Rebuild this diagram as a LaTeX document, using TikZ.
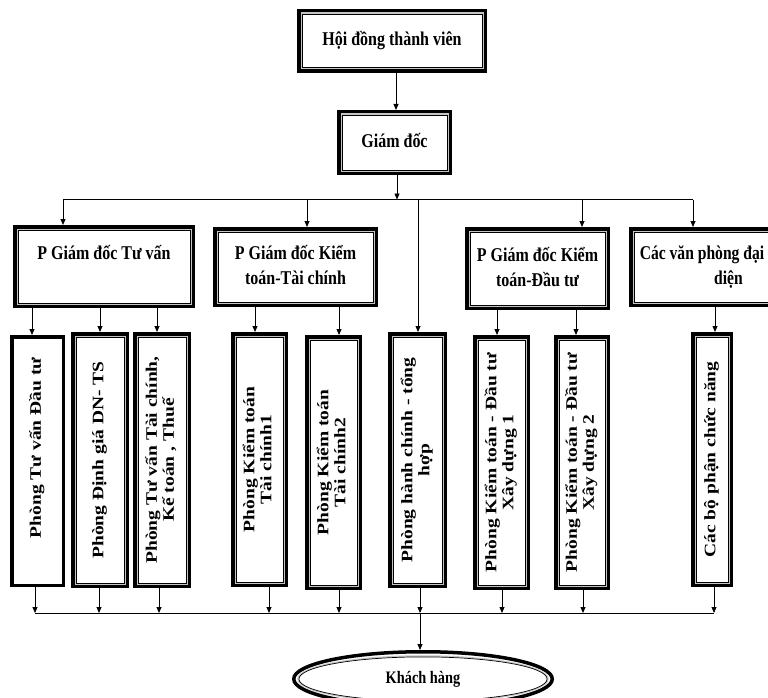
\documentclass[tikz,border=0pt]{standalone}
\usepackage{fontspec}
\setmainfont{Liberation Serif}
\usepackage{graphicx}
\usetikzlibrary{arrows.meta,shapes.geometric}
\newcommand\htx[1]{\scalebox{0.82}[1]{\begin{tabular}{@{}c@{}}#1\end{tabular}}}
\newcommand\vtx[1]{\scalebox{0.82}[1]{\rotatebox{90}{\begin{tabular}{@{}c@{}}#1\end{tabular}}}}
\begin{document}
\begin{tikzpicture}[x=1pt,y=-1pt,
  frame/.style={draw=black, line width=3.5pt, fill=white, inner sep=0pt},
  hbox/.style={frame, font=\fontsize{19.5}{25}\selectfont\bfseries},
  vbox/.style={frame, font=\fontsize{19.5}{20.5}\selectfont\bfseries},
  arr/.style={-{Triangle[length=6pt,width=5pt]}, line width=0.8pt},
  ln/.style={line width=0.8pt},
  gapline/.style={draw=gray!45, line width=1.3pt},
  thinline/.style={draw=black, line width=0.7pt}]
\useasboundingbox (0,0) rectangle (768,698);
\clip (0,0) rectangle (768,698);

% level 0 and 1
\node[hbox, minimum width=186.5pt, minimum height=60.5pt] (A) at (392,41) {\htx{Hội đồng thành viên}};
\node[hbox, minimum width=111.5pt, minimum height=61.5pt] (B) at (394.5,142.5) {\htx{Giám đốc}};

% level 2
\node[hbox, minimum width=178.5pt, minimum height=79.5pt] (C1) at (104,266.5) {\htx{P Giám đốc Tư vấn\\ \mbox{}}};
\node[hbox, minimum width=161.5pt, minimum height=76.5pt] (C2) at (295.5,267) {\htx{P Giám đốc Kiểm\\toán-Tài chính}};
\node[hbox, minimum width=141.5pt, minimum height=79.5pt] (C3) at (537.5,268.5) {\htx{P Giám đốc Kiểm\\toán-Đầu tư}};
\node[hbox, minimum width=142.5pt, minimum height=76.5pt] (C4) at (702,267) {\scalebox{0.8}[1]{\begin{tabular}{@{}l@{}}Các văn phòng đại\\\hspace*{93pt}diện\end{tabular}}};

% level 3
\node[vbox, minimum width=51.5pt, minimum height=248.5pt] (D1) at (37.5,461) {\vtx{\hspace*{26pt}Phòng Tư vấn Đầu tư}};
\node[vbox, minimum width=54.5pt, minimum height=252.5pt] (D2) at (100,460) {\vtx{Phòng Định giá DN- TS}};
\node[vbox, minimum width=54.5pt, minimum height=252.5pt] (D3) at (162,460) {\vtx{Phòng Tư vấn Tài chính,\\Kế toán , Thuế}};
\node[vbox, minimum width=53.5pt, minimum height=251.5pt] (D4) at (259.5,459.5) {\vtx{Phòng Kiểm toán\\Tài chính1}};
\node[vbox, minimum width=53.5pt, minimum height=251.5pt] (D5) at (333.5,462.5) {\vtx{Phòng Kiểm toán\\Tài chính2}};
\node[vbox, minimum width=55.5pt, minimum height=252.5pt] (D6) at (417.5,460) {\vtx{Phòng hành chính - tổng\\hợp}};
\node[vbox, minimum width=53.5pt, minimum height=251.5pt] (D7) at (501.5,462.5) {\vtx{Phòng Kiểm toán - Đầu tư\\Xây dựng 1}};
\node[vbox, minimum width=52.5pt, minimum height=251.5pt] (D8) at (582,462.5) {\vtx{Phòng Kiểm toán - Đầu tư\\Xây dựng 2}};
\node[vbox, minimum width=38.5pt, minimum height=251.5pt] (D9) at (712,459.5) {\vtx{Các bộ phận chức năng}};

% customer ellipse
\node[ellipse, draw=black, line width=3.5pt, fill=white, minimum width=258.5pt, minimum height=54.5pt,
      font=\fontsize{17.5}{20}\selectfont\bfseries] (E) at (423,679) {\scalebox{0.82}[1]{Khách hàng}};
\draw[gapline] (E.center) ellipse [x radius=125.1pt, y radius=23.1pt];
\draw[thinline] (E.center) ellipse [x radius=124.1pt, y radius=22.1pt];

% inner double frame lines
\foreach \n in {A,B,C1,C2,C3,C4,D2,D3,D4,D5,D6,D7,D8,D9} {
  \draw[gapline] ([shift={(4.15pt,4.15pt)}]\n.south west) rectangle ([shift={(-4.15pt,-4.15pt)}]\n.north east);
  \draw[thinline] ([shift={(5.15pt,5.15pt)}]\n.south west) rectangle ([shift={(-5.15pt,-5.15pt)}]\n.north east);
}

% bus coordinates
\coordinate (bus) at (0,199.5);
\coordinate (bus2) at (0,613);

% top connectors
\draw[arr] (A.south -| 396,0) -- (B.north -| 396,0);
\draw[arr] (B.south -| 397,0) -- (bus -| 397,0);
\draw[ln] (bus -| 63,0) -- (bus -| 693,0);
\draw[arr] (bus -| 63,0) -- (C1.north -| 63,0);
\draw[arr] (bus -| 307,0) -- (C2.north -| 307,0);
\draw[arr] (bus -| 418,0) -- (D6.north -| 418,0);
\draw[arr] (bus -| 582,0) -- (C3.north -| 582,0);
\draw[arr] (bus -| 693,0) -- (C4.north -| 693,0);

% level 2 to level 3
\draw[arr] (C1.south -| 32,0) -- (D1.north -| 32,0);
\draw[arr] (C1.south -| 100,0) -- (D2.north -| 100,0);
\draw[arr] (C1.south -| 157,0) -- (D3.north -| 157,0);
\draw[arr] (C2.south -| 255,0) -- (D4.north -| 255,0);
\draw[arr] (C2.south -| 339,0) -- (D5.north -| 339,0);
\draw[arr] (C3.south -| 497,0) -- (D7.north -| 497,0);
\draw[arr] (C3.south -| 576,0) -- (D8.north -| 576,0);
\draw[arr] (C4.south -| 715,0) -- (D9.north -| 715,0);

% level 3 to bottom bus
\draw[arr] (D1.south -| 35,0) -- (bus2 -| 35,0);
\draw[arr] (D2.south -| 99,0) -- (bus2 -| 99,0);
\draw[arr] (D3.south -| 159,0) -- (bus2 -| 159,0);
\draw[arr] (D4.south -| 269,0) -- (bus2 -| 269,0);
\draw[arr] (D5.south -| 339,0) -- (bus2 -| 339,0);
\draw[arr] (D6.south -| 420,0) -- (bus2 -| 420,0);
\draw[arr] (D7.south -| 502,0) -- (bus2 -| 502,0);
\draw[arr] (D8.south -| 583,0) -- (bus2 -| 583,0);
\draw[arr] (D9.south -| 714,0) -- (bus2 -| 714,0);
\draw[ln] (bus2 -| 35,0) -- (bus2 -| 714,0);
\draw[arr] (bus2 -| 420,0) -- (E.north -| 420,0);
\end{tikzpicture}
\end{document}
